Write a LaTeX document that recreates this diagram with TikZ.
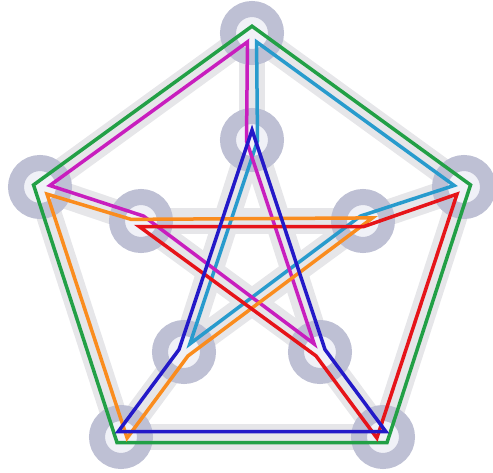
\documentclass[tikz,border=0pt]{standalone}
\usetikzlibrary{calc}
\definecolor{cgreen}{RGB}{34,160,70}
\definecolor{ccyan}{RGB}{40,155,205}
\definecolor{cblue}{RGB}{35,25,200}
\definecolor{cred}{RGB}{230,20,25}
\definecolor{corange}{RGB}{250,140,30}
\definecolor{cmagenta}{RGB}{200,30,190}
\definecolor{cring}{RGB}{190,192,212}
\definecolor{cband}{RGB}{230,230,233}
\definecolor{cinner}{RGB}{240,241,247}
\newcommand\mkedge[3]{%
  \coordinate (#1La) at ($(#2)!5.5pt!90:(#3)$);
  \coordinate (#1Lb) at ($(#1La)+(#3)-(#2)$);
  \coordinate (#1Ra) at ($(#2)!5.5pt!-90:(#3)$);
  \coordinate (#1Rb) at ($(#1Ra)+(#3)-(#2)$);
}
\newcommand\mkcorner[4]{%
  \coordinate (M) at (intersection of #3a--#3b and #4a--#4b);
  \path let \p1=($(M)-(#2)$), \n1={min(veclen(\x1,\y1),10pt)} in coordinate (#1) at ($(#2)!\n1!(M)$);
}
\begin{document}
\begin{tikzpicture}[x=1pt,y=-1pt,
  band/.style={line width=26pt,draw=cband,line cap=round},
  ring/.style={circle,draw=cring,line width=16pt,fill=cinner,minimum size=48pt,inner sep=0pt},
  cyc/.style={line width=3.5pt,line join=miter}]
\useasboundingbox (0,0) rectangle (493,473);
% vertex positions
\coordinate (O0) at (252,33);
\coordinate (O1) at (464,187);
\coordinate (O2) at (383,437);
\coordinate (O3) at (121,437);
\coordinate (O4) at (40,187);
\coordinate (I0) at (252,140);
\coordinate (I1) at (363,221);
\coordinate (I2) at (320,352);
\coordinate (I3) at (184,352);
\coordinate (I4) at (141,221);
% gray edge bands
\foreach \a/\b in {O0/O1,O1/O2,O2/O3,O3/O4,O4/O0,O0/I0,O1/I1,O2/I2,O3/I3,O4/I4,I0/I2,I2/I4,I4/I1,I1/I3,I3/I0}
  \draw[band] (\a) -- (\b);
% rings
\foreach \v in {O0,O1,O2,O3,O4,I0,I1,I2,I3,I4}
  \node[ring] (r\v) at (\v) {};
% offset lines
\mkedge{e1}{O0}{O1}
\mkedge{e2}{O1}{O2}
\mkedge{e3}{O2}{O3}
\mkedge{e4}{O3}{O4}
\mkedge{e5}{O4}{O0}
\mkedge{e6}{O0}{I0}
\mkedge{e7}{O1}{I1}
\mkedge{e8}{O4}{I4}
\mkedge{e9}{O3}{I3}
\mkedge{e10}{O2}{I2}
\mkedge{e11}{I0}{I2}
\mkedge{e12}{I0}{I3}
\mkedge{e13}{I3}{I1}
\mkedge{e14}{I1}{I4}
\mkedge{e15}{I4}{I2}
% green
\mkcorner{G0}{O0}{e5L}{e1L}
\mkcorner{G1}{O1}{e1L}{e2L}
\mkcorner{G2}{O2}{e2L}{e3L}
\mkcorner{G3}{O3}{e3L}{e4L}
\mkcorner{G4}{O4}{e4L}{e5L}
% cyan
\mkcorner{C0}{O0}{e6L}{e1R}
\mkcorner{C1}{O1}{e1R}{e7R}
\mkcorner{C2}{I1}{e7R}{e13L}
\mkcorner{C3}{I3}{e13L}{e12L}
\mkcorner{C4}{I0}{e12L}{e6L}
% red
\mkcorner{R0}{O1}{e7L}{e2R}
\mkcorner{R1}{O2}{e2R}{e10L}
\mkcorner{R2}{I2}{e10L}{e15R}
\mkcorner{R3}{I4}{e15R}{e14L}
\mkcorner{R4}{I1}{e14L}{e7L}
% blue
\mkcorner{B0}{O2}{e10R}{e3R}
\mkcorner{B1}{O3}{e3R}{e9L}
\mkcorner{B2}{I3}{e9L}{e12R}
\mkcorner{B3}{I0}{e12R}{e11L}
\mkcorner{B4}{I2}{e11L}{e10R}
% orange
\mkcorner{Y0}{O3}{e9R}{e4R}
\mkcorner{Y1}{O4}{e4R}{e8R}
\mkcorner{Y2}{I4}{e8R}{e14R}
\mkcorner{Y3}{I1}{e14R}{e13R}
\mkcorner{Y4}{I3}{e13R}{e9R}
% magenta
\mkcorner{P0}{O4}{e8L}{e5R}
\mkcorner{P1}{O0}{e5R}{e6R}
\mkcorner{P2}{I0}{e6R}{e11R}
\mkcorner{P3}{I2}{e11R}{e15L}
\mkcorner{P4}{I4}{e15L}{e8L}
% cycles
\draw[cyc,cgreen] (G0)--(G1)--(G2)--(G3)--(G4)--cycle;
\draw[cyc,ccyan] (C0)--(C1)--(C2)--(C3)--(C4)--cycle;
\draw[cyc,cmagenta] (P0)--(P1)--(P2)--(P3)--(P4)--cycle;
\draw[cyc,corange] (Y0)--(Y1)--(Y2)--(Y3)--(Y4)--cycle;
\draw[cyc,cred] (R0)--(R1)--(R2)--(R3)--(R4)--cycle;
\draw[cyc,cblue] (B0)--(B1)--(B2)--(B3)--(B4)--cycle;
\end{tikzpicture}
\end{document}
